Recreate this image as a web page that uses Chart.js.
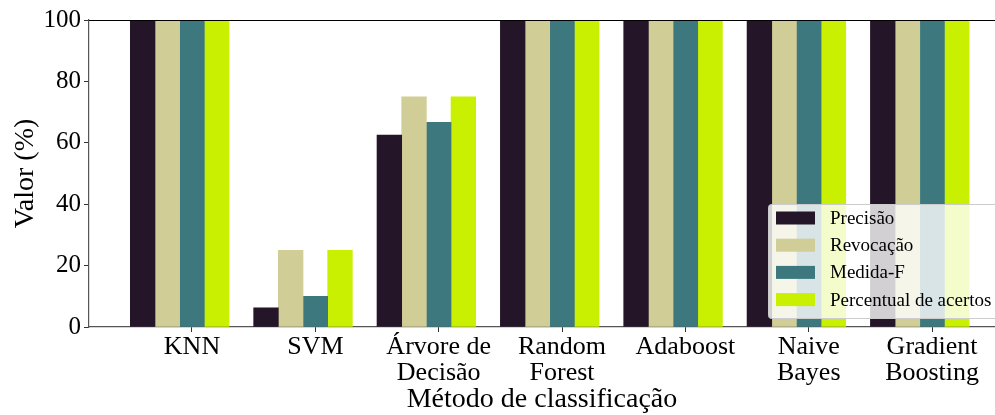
<!DOCTYPE html>
<html>
<head>
<meta charset="utf-8">
<script src="https://cdn.jsdelivr.net/npm/chart.js@4.4.0/dist/chart.umd.min.js"></script>
<style>
  html, body { margin: 0; padding: 0; background: #fff; }
</style>
</head>
<body>
<canvas id="myChart" width="995" height="415"></canvas>
<script>
// categories and series (values in %)
var metodos = ["KNN", "SVM", ["Árvore de", "Decisão"], ["Random", "Forest"], "Adaboost", ["Naive", "Bayes"], ["Gradient", "Boosting"]];
var precisao  = [100, 6.25, 62.5, 100, 100, 100, 100];
var revocacao = [100, 25, 75, 100, 100, 100, 100];
var medidaF   = [100, 10, 66.67, 100, 100, 100, 100];
var acertos   = [100, 25, 75, 100, 100, 100, 100];
var yTicks = [0, 20, 40, 60, 80, 100];

var nomes  = ["Precisão", "Revocação", "Medida-F", "Percentual de acertos"];
var cores  = ["#241628", "#d0cd96", "#3c787e", "#c8f000"];
// bars sit at x-0.4, x-0.2, x, x+0.2 like the original plot
var desloc = [-0.4, -0.2, 0, 0.2];
var series = [precisao, revocacao, medidaF, acertos];

var fonte = "'Liberation Serif', 'Times New Roman', serif";

var datasets = series.map(function (vals, k) {
  return {
    label: nomes[k],
    data: vals.map(function (v, i) { return { x: i + desloc[k], y: v }; }),
    backgroundColor: cores[k],
    borderWidth: 0,
    barPercentage: 1,
    categoryPercentage: 1,
    grouped: false
  };
});

// top spine + legend box inside the plot
var extras = {
  id: 'extras',
  afterDraw: function (chart) {
    var ctx = chart.ctx, a = chart.chartArea;
    ctx.save();
    ctx.strokeStyle = '#000';
    ctx.lineWidth = 1.2;
    ctx.beginPath();
    ctx.moveTo(a.left, a.top + 0.5);
    ctx.lineTo(a.right, a.top + 0.5);
    ctx.stroke();

    var w = 232, h = 114;
    var x0 = a.right - 227, y0 = a.bottom - 9 - h;
    ctx.fillStyle = 'rgba(255,255,255,0.8)';
    ctx.strokeStyle = '#cccccc';
    ctx.lineWidth = 1;
    ctx.beginPath();
    ctx.roundRect(x0 + 0.5, y0 + 0.5, w, h, 3);
    ctx.fill();
    ctx.stroke();

    ctx.font = "19px " + fonte;
    ctx.textBaseline = 'middle';
    chart.data.datasets.forEach(function (ds, k) {
      var cy = y0 + 14 + k * 27.2;
      ctx.fillStyle = ds.backgroundColor;
      ctx.fillRect(x0 + 8, cy - 6.5, 39, 13);
      ctx.fillStyle = '#000';
      ctx.fillText(ds.label, x0 + 62, cy + 1);
    });
    ctx.restore();
  }
};

var ctx = document.getElementById("myChart");
var myChart = new Chart(ctx, {
  type: 'bar',
  data: { datasets: datasets },
  options: {
    responsive: false,
    animation: false,
    layout: { padding: { top: 20, right: 0, left: 0, bottom: 0 } },
    plugins: { legend: { display: false }, tooltip: { enabled: false } },
    scales: {
      x: {
        type: 'linear',
        offset: false,
        min: -0.835,
        max: 6.51,
        afterBuildTicks: function (s) { s.ticks = metodos.map(function (m, i) { return { value: i }; }); },
        afterFit: function (s) { s.height = 88; },
        ticks: {
          callback: function (v) { return metodos[v]; },
          font: { family: fonte, size: 26, lineHeight: 1.0 },
          color: '#000',
          maxRotation: 0,
          autoSkip: false,
          padding: 2
        },
        grid: { drawOnChartArea: false, offset: false, tickLength: 5, color: '#333' },
        border: { color: '#555', width: 1.2 },
        title: { display: true, text: 'Método de classificação', color: '#000', font: { family: fonte, size: 28, lineHeight: 1.1 }, padding: { top: 0, bottom: 0 } }
      },
      y: {
        min: 0,
        max: 100,
        afterBuildTicks: function (s) { s.ticks = yTicks.map(function (v) { return { value: v }; }); },
        afterFit: function (s) { s.width = 89; },
        ticks: {
          font: { family: fonte, size: 25 },
          color: '#000',
          padding: 3
        },
        grid: { drawOnChartArea: false, tickLength: 5, color: '#333' },
        border: { color: '#555', width: 1.2 },
        title: { display: true, text: 'Valor (%)', color: '#000', font: { family: fonte, size: 28 }, padding: { top: 9, bottom: 0 } }
      }
    }
  },
  plugins: [extras]
});
</script>
</body>
</html>
